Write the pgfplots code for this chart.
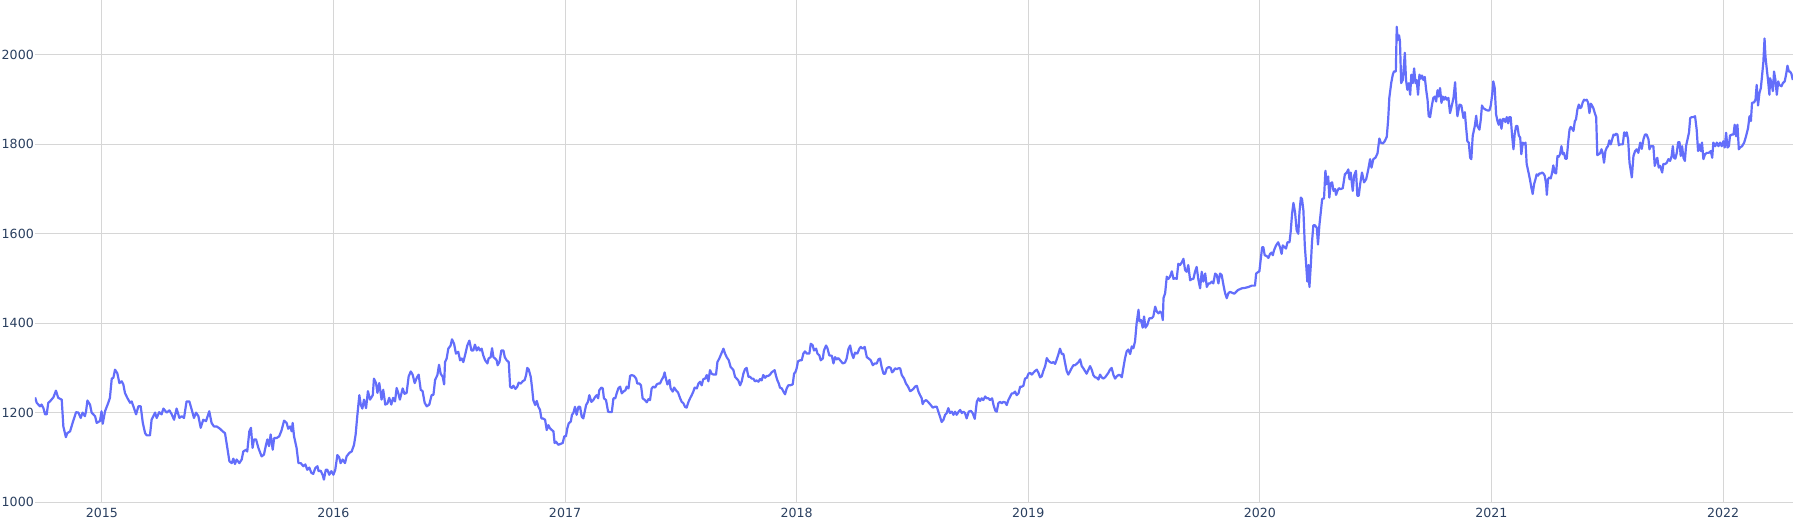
\documentclass[border=0pt]{standalone}
\usepackage{fontspec}
\setmainfont{DejaVu Sans}
\usepackage{pgfplots}
\pgfplotsset{compat=1.18}
\definecolor{lineblue}{HTML}{636EFA}
\definecolor{gridgray}{HTML}{D6D6D6}
\definecolor{labelcol}{HTML}{2A3F5F}
\begin{document}
\begin{tikzpicture}
\useasboundingbox (-35pt,-23pt) rectangle (1758pt,502pt);
\begin{axis}[
  at={(0,0)}, anchor=south west,
  width=1758pt, height=502pt, scale only axis,
  xmin=2014.7116, xmax=2022.302, ymin=1000, ymax=2123,
  axis line style={draw=none},
  grid=major, major grid style={draw=gridgray, line width=1pt},
  major tick length=0pt,
  xtick={2015,2016,2017,2018,2019,2020,2021,2022},
  ytick={1000,1200,1400,1600,1800,2000},
  tick label style={font=\fontsize{12.6pt}{15pt}\selectfont, text=labelcol},
  xticklabel style={anchor=north, inner sep=0pt, yshift=-6pt},
  yticklabel style={anchor=east, inner sep=0pt, xshift=-1pt},
  /pgf/number format/1000 sep={},
  /pgf/number format/assume math mode=true,
]
\addplot[lineblue, line width=2.2pt, line join=round, mark=none] table {
2014.712 1234
2014.719 1222
2014.726 1218
2014.733 1214
2014.740 1218
2014.748 1210
2014.755 1196
2014.762 1196
2014.769 1222
2014.776 1225
2014.791 1234
2014.802 1249
2014.812 1233
2014.827 1229
2014.834 1169
2014.845 1145
2014.851 1154
2014.863 1158
2014.874 1177
2014.889 1201
2014.899 1200
2014.909 1188
2014.917 1200
2014.927 1192
2014.932 1203
2014.938 1227
2014.949 1218
2014.956 1200
2014.971 1192
2014.978 1177
2014.992 1181
2014.999 1203
2015.004 1175
2015.014 1203
2015.028 1222
2015.035 1233
2015.043 1276
2015.050 1278
2015.057 1296
2015.067 1288
2015.076 1266
2015.086 1270
2015.093 1263
2015.100 1244
2015.110 1233
2015.122 1222
2015.129 1225
2015.139 1210
2015.148 1196
2015.158 1214
2015.168 1214
2015.177 1177
2015.187 1154
2015.194 1149
2015.208 1149
2015.215 1184
2015.230 1200
2015.237 1188
2015.248 1201
2015.258 1196
2015.266 1209
2015.280 1200
2015.292 1205
2015.302 1196
2015.312 1184
2015.323 1209
2015.335 1188
2015.345 1192
2015.355 1188
2015.366 1225
2015.378 1225
2015.388 1207
2015.398 1188
2015.407 1200
2015.417 1192
2015.427 1166
2015.438 1184
2015.450 1181
2015.464 1203
2015.474 1177
2015.484 1169
2015.496 1169
2015.510 1164
2015.522 1158
2015.532 1154
2015.542 1121
2015.551 1091
2015.561 1087
2015.568 1097
2015.575 1085
2015.582 1095
2015.594 1087
2015.604 1095
2015.611 1113
2015.623 1117
2015.628 1113
2015.637 1158
2015.644 1166
2015.651 1121
2015.657 1140
2015.666 1140
2015.676 1121
2015.690 1102
2015.700 1106
2015.709 1128
2015.715 1140
2015.722 1125
2015.729 1151
2015.738 1117
2015.744 1143
2015.755 1143
2015.766 1147
2015.776 1160
2015.787 1182
2015.798 1177
2015.805 1164
2015.813 1169
2015.820 1158
2015.824 1177
2015.830 1147
2015.841 1121
2015.849 1087
2015.859 1087
2015.870 1080
2015.879 1084
2015.887 1072
2015.896 1077
2015.905 1065
2015.913 1063
2015.922 1076
2015.931 1080
2015.936 1069
2015.945 1070
2015.954 1060
2015.959 1050
2015.967 1072
2015.974 1072
2015.982 1061
2015.991 1069
2016.000 1061
2016.008 1072
2016.017 1105
2016.025 1100
2016.031 1087
2016.040 1095
2016.050 1087
2016.057 1102
2016.069 1110
2016.079 1113
2016.089 1128
2016.096 1151
2016.103 1192
2016.112 1239
2016.118 1218
2016.125 1209
2016.132 1229
2016.141 1210
2016.149 1248
2016.158 1229
2016.170 1239
2016.175 1276
2016.184 1266
2016.190 1244
2016.198 1266
2016.208 1229
2016.215 1251
2016.224 1218
2016.233 1220
2016.241 1233
2016.250 1218
2016.258 1233
2016.266 1225
2016.273 1255
2016.280 1244
2016.287 1229
2016.299 1254
2016.307 1242
2016.316 1244
2016.325 1281
2016.334 1292
2016.342 1285
2016.351 1266
2016.360 1278
2016.368 1285
2016.377 1251
2016.385 1248
2016.394 1222
2016.403 1214
2016.414 1218
2016.424 1239
2016.432 1240
2016.439 1273
2016.449 1284
2016.456 1307
2016.463 1287
2016.472 1280
2016.478 1263
2016.482 1313
2016.489 1321
2016.496 1343
2016.506 1350
2016.512 1364
2016.521 1354
2016.529 1332
2016.539 1336
2016.547 1317
2016.554 1321
2016.561 1313
2016.570 1332
2016.578 1350
2016.587 1361
2016.596 1339
2016.604 1339
2016.611 1352
2016.619 1339
2016.626 1346
2016.633 1339
2016.640 1343
2016.647 1328
2016.655 1317
2016.665 1310
2016.670 1321
2016.679 1324
2016.685 1344
2016.691 1324
2016.698 1321
2016.705 1317
2016.709 1306
2016.717 1313
2016.725 1339
2016.734 1339
2016.740 1324
2016.748 1317
2016.757 1313
2016.763 1258
2016.770 1255
2016.777 1260
2016.786 1253
2016.794 1258
2016.800 1267
2016.809 1265
2016.817 1270
2016.826 1273
2016.832 1284
2016.837 1300
2016.843 1297
2016.852 1280
2016.858 1254
2016.863 1228
2016.871 1217
2016.878 1226
2016.885 1213
2016.892 1206
2016.898 1187
2016.904 1187
2016.914 1184
2016.921 1161
2016.928 1172
2016.935 1165
2016.943 1161
2016.950 1158
2016.955 1132
2016.961 1135
2016.971 1128
2016.981 1130
2016.990 1132
2016.997 1147
2017.004 1147
2017.010 1165
2017.016 1176
2017.025 1180
2017.030 1195
2017.036 1199
2017.043 1213
2017.050 1195
2017.058 1213
2017.065 1213
2017.072 1191
2017.079 1187
2017.085 1202
2017.091 1217
2017.099 1224
2017.105 1239
2017.114 1224
2017.122 1228
2017.130 1235
2017.137 1239
2017.143 1232
2017.148 1250
2017.157 1256
2017.163 1254
2017.168 1232
2017.177 1228
2017.186 1202
2017.194 1201
2017.202 1201
2017.209 1232
2017.217 1232
2017.223 1243
2017.230 1254
2017.238 1258
2017.245 1243
2017.252 1247
2017.261 1250
2017.266 1258
2017.274 1254
2017.281 1282
2017.288 1284
2017.298 1282
2017.307 1276
2017.312 1265
2017.321 1265
2017.328 1261
2017.335 1232
2017.345 1228
2017.353 1223
2017.360 1230
2017.367 1228
2017.374 1254
2017.381 1258
2017.389 1256
2017.396 1263
2017.403 1265
2017.410 1265
2017.417 1273
2017.425 1280
2017.430 1290
2017.436 1275
2017.442 1263
2017.451 1273
2017.456 1254
2017.465 1247
2017.471 1256
2017.479 1250
2017.488 1245
2017.497 1232
2017.504 1224
2017.511 1221
2017.518 1213
2017.525 1211
2017.533 1224
2017.540 1232
2017.547 1239
2017.554 1247
2017.560 1256
2017.569 1254
2017.576 1265
2017.583 1269
2017.590 1261
2017.597 1275
2017.605 1276
2017.612 1284
2017.619 1270
2017.626 1295
2017.633 1287
2017.641 1285
2017.652 1285
2017.658 1313
2017.666 1321
2017.675 1332
2017.684 1343
2017.691 1332
2017.698 1324
2017.707 1317
2017.715 1302
2017.721 1299
2017.727 1295
2017.734 1280
2017.741 1276
2017.748 1272
2017.756 1261
2017.763 1270
2017.770 1287
2017.777 1297
2017.784 1300
2017.792 1280
2017.799 1280
2017.806 1276
2017.813 1276
2017.820 1270
2017.828 1272
2017.835 1269
2017.842 1275
2017.849 1272
2017.856 1284
2017.864 1278
2017.871 1282
2017.878 1282
2017.885 1285
2017.892 1290
2017.900 1293
2017.905 1295
2017.911 1282
2017.917 1272
2017.923 1265
2017.928 1256
2017.936 1254
2017.943 1247
2017.950 1241
2017.957 1254
2017.964 1261
2017.972 1261
2017.983 1263
2017.989 1287
2017.995 1291
2018.000 1299
2018.006 1315
2018.015 1317
2018.022 1317
2018.029 1332
2018.036 1337
2018.044 1332
2018.055 1332
2018.061 1354
2018.069 1351
2018.075 1339
2018.084 1343
2018.090 1332
2018.098 1328
2018.104 1317
2018.113 1321
2018.118 1339
2018.127 1350
2018.133 1344
2018.141 1328
2018.152 1327
2018.159 1310
2018.166 1324
2018.173 1319
2018.180 1322
2018.188 1317
2018.199 1310
2018.209 1312
2018.216 1321
2018.224 1343
2018.231 1350
2018.238 1332
2018.245 1322
2018.252 1334
2018.262 1332
2018.271 1343
2018.277 1347
2018.285 1343
2018.294 1347
2018.303 1324
2018.311 1321
2018.320 1317
2018.329 1306
2018.337 1310
2018.346 1310
2018.353 1319
2018.360 1321
2018.367 1302
2018.375 1287
2018.382 1287
2018.389 1299
2018.398 1302
2018.406 1300
2018.412 1290
2018.418 1293
2018.425 1299
2018.432 1297
2018.439 1299
2018.447 1299
2018.454 1284
2018.464 1276
2018.472 1265
2018.481 1258
2018.490 1248
2018.497 1250
2018.504 1253
2018.511 1258
2018.519 1260
2018.526 1247
2018.533 1239
2018.540 1232
2018.544 1219
2018.550 1225
2018.559 1228
2018.569 1223
2018.579 1217
2018.588 1211
2018.596 1213
2018.605 1213
2018.612 1202
2018.619 1191
2018.626 1179
2018.634 1184
2018.641 1195
2018.648 1199
2018.655 1210
2018.662 1199
2018.670 1202
2018.677 1195
2018.684 1202
2018.691 1195
2018.698 1201
2018.706 1206
2018.713 1199
2018.720 1202
2018.727 1199
2018.734 1187
2018.743 1202
2018.752 1204
2018.760 1199
2018.769 1186
2018.778 1224
2018.785 1232
2018.792 1226
2018.799 1232
2018.806 1228
2018.814 1236
2018.821 1232
2018.828 1232
2018.835 1228
2018.844 1232
2018.850 1217
2018.858 1204
2018.864 1202
2018.871 1221
2018.878 1224
2018.886 1221
2018.893 1224
2018.900 1223
2018.907 1217
2018.914 1228
2018.922 1236
2018.929 1243
2018.936 1243
2018.943 1247
2018.950 1239
2018.958 1243
2018.965 1258
2018.972 1258
2018.979 1260
2018.986 1276
2018.994 1278
2019.001 1287
2019.008 1289
2019.015 1285
2019.022 1289
2019.029 1293
2019.037 1296
2019.044 1289
2019.051 1279
2019.058 1281
2019.065 1293
2019.073 1304
2019.080 1322
2019.087 1316
2019.094 1313
2019.101 1311
2019.109 1313
2019.116 1309
2019.123 1319
2019.130 1330
2019.137 1343
2019.145 1331
2019.152 1331
2019.159 1311
2019.166 1293
2019.173 1285
2019.181 1293
2019.188 1300
2019.195 1306
2019.202 1306
2019.209 1309
2019.217 1313
2019.224 1319
2019.231 1304
2019.238 1299
2019.245 1293
2019.252 1287
2019.260 1296
2019.267 1304
2019.274 1296
2019.281 1284
2019.288 1279
2019.296 1278
2019.303 1274
2019.310 1285
2019.317 1279
2019.324 1276
2019.332 1279
2019.339 1284
2019.346 1289
2019.353 1296
2019.360 1300
2019.368 1284
2019.375 1276
2019.382 1281
2019.389 1284
2019.396 1284
2019.404 1279
2019.411 1301
2019.418 1322
2019.425 1337
2019.432 1341
2019.440 1331
2019.447 1348
2019.454 1344
2019.461 1359
2019.468 1400
2019.476 1430
2019.480 1404
2019.487 1407
2019.494 1390
2019.500 1415
2019.506 1390
2019.514 1396
2019.523 1411
2019.533 1411
2019.540 1415
2019.548 1437
2019.555 1426
2019.562 1422
2019.569 1426
2019.576 1422
2019.581 1407
2019.584 1456
2019.591 1467
2019.598 1504
2019.605 1499
2019.612 1504
2019.620 1516
2019.627 1499
2019.634 1501
2019.641 1499
2019.648 1533
2019.655 1530
2019.663 1536
2019.670 1544
2019.677 1519
2019.684 1515
2019.691 1530
2019.699 1496
2019.706 1499
2019.713 1499
2019.720 1515
2019.727 1526
2019.735 1496
2019.742 1478
2019.749 1515
2019.756 1493
2019.764 1511
2019.771 1481
2019.778 1489
2019.785 1489
2019.792 1493
2019.799 1489
2019.807 1511
2019.814 1508
2019.821 1489
2019.828 1511
2019.835 1508
2019.843 1485
2019.850 1467
2019.857 1456
2019.864 1467
2019.871 1470
2019.890 1466
2019.905 1474
2019.922 1478
2019.936 1479
2019.951 1481
2019.965 1484
2019.979 1484
2019.984 1511
2019.994 1515
2019.998 1516
2020.004 1544
2020.010 1570
2020.015 1570
2020.021 1552
2020.030 1550
2020.037 1546
2020.044 1555
2020.051 1558
2020.056 1552
2020.061 1563
2020.070 1574
2020.079 1581
2020.087 1570
2020.094 1555
2020.099 1574
2020.107 1570
2020.113 1567
2020.119 1581
2020.128 1581
2020.133 1604
2020.139 1644
2020.145 1669
2020.152 1648
2020.159 1607
2020.166 1600
2020.171 1648
2020.177 1681
2020.182 1678
2020.188 1652
2020.194 1574
2020.200 1530
2020.205 1493
2020.210 1530
2020.214 1481
2020.220 1530
2020.225 1581
2020.231 1619
2020.238 1619
2020.246 1613
2020.251 1576
2020.257 1619
2020.263 1648
2020.269 1678
2020.277 1679
2020.283 1741
2020.289 1711
2020.295 1728
2020.300 1681
2020.306 1713
2020.312 1715
2020.318 1696
2020.325 1700
2020.329 1687
2020.335 1696
2020.341 1702
2020.349 1700
2020.358 1702
2020.367 1733
2020.375 1737
2020.382 1744
2020.387 1722
2020.392 1737
2020.401 1696
2020.407 1730
2020.415 1741
2020.421 1685
2020.427 1685
2020.433 1711
2020.441 1737
2020.450 1715
2020.459 1722
2020.467 1741
2020.476 1767
2020.482 1748
2020.490 1767
2020.499 1770
2020.508 1780
2020.516 1813
2020.522 1804
2020.531 1802
2020.539 1807
2020.548 1817
2020.554 1856
2020.559 1904
2020.567 1937
2020.574 1956
2020.579 1963
2020.587 1963
2020.591 2063
2020.595 2033
2020.601 2044
2020.605 2030
2020.610 1937
2020.617 1944
2020.626 2005
2020.631 1944
2020.637 1922
2020.643 1937
2020.649 1911
2020.654 1956
2020.660 1937
2020.666 1970
2020.672 1937
2020.677 1944
2020.683 1911
2020.689 1956
2020.695 1947
2020.700 1954
2020.706 1944
2020.712 1951
2020.718 1922
2020.724 1900
2020.729 1863
2020.735 1861
2020.742 1885
2020.749 1904
2020.756 1907
2020.761 1896
2020.767 1921
2020.772 1907
2020.778 1926
2020.784 1893
2020.790 1907
2020.795 1900
2020.801 1906
2020.807 1900
2020.814 1904
2020.821 1870
2020.828 1885
2020.836 1904
2020.843 1939
2020.847 1900
2020.853 1863
2020.862 1889
2020.870 1887
2020.879 1859
2020.885 1872
2020.890 1841
2020.896 1807
2020.902 1804
2020.908 1770
2020.913 1767
2020.919 1819
2020.928 1841
2020.934 1864
2020.939 1841
2020.948 1833
2020.954 1856
2020.959 1887
2020.965 1881
2020.974 1878
2020.982 1876
2020.991 1876
2020.997 1887
2021.003 1911
2021.008 1941
2021.014 1926
2021.020 1867
2021.026 1852
2021.031 1844
2021.037 1856
2021.043 1835
2021.049 1857
2021.054 1857
2021.060 1850
2021.066 1861
2021.072 1847
2021.077 1861
2021.083 1861
2021.089 1820
2021.095 1789
2021.100 1822
2021.106 1841
2021.112 1841
2021.118 1820
2021.124 1815
2021.129 1778
2021.135 1804
2021.141 1800
2021.147 1804
2021.152 1756
2021.160 1737
2021.167 1719
2021.172 1704
2021.178 1689
2021.184 1711
2021.190 1722
2021.195 1733
2021.201 1730
2021.207 1735
2021.213 1735
2021.219 1737
2021.224 1735
2021.230 1730
2021.236 1711
2021.239 1687
2021.244 1722
2021.250 1726
2021.256 1724
2021.262 1737
2021.267 1753
2021.273 1737
2021.279 1735
2021.285 1774
2021.290 1772
2021.296 1778
2021.302 1796
2021.308 1778
2021.313 1781
2021.319 1768
2021.325 1768
2021.331 1804
2021.337 1833
2021.342 1839
2021.348 1835
2021.354 1830
2021.360 1852
2021.365 1856
2021.371 1878
2021.377 1889
2021.383 1881
2021.388 1883
2021.394 1894
2021.400 1900
2021.406 1898
2021.411 1900
2021.417 1894
2021.423 1870
2021.429 1891
2021.434 1887
2021.440 1881
2021.446 1870
2021.452 1861
2021.457 1776
2021.463 1778
2021.469 1780
2021.475 1789
2021.480 1781
2021.486 1759
2021.492 1785
2021.498 1793
2021.503 1796
2021.509 1809
2021.515 1800
2021.521 1811
2021.527 1822
2021.532 1820
2021.538 1824
2021.544 1822
2021.550 1798
2021.555 1800
2021.567 1800
2021.573 1827
2021.578 1819
2021.584 1827
2021.590 1811
2021.596 1759
2021.606 1726
2021.613 1774
2021.620 1785
2021.627 1789
2021.634 1781
2021.642 1804
2021.649 1790
2021.656 1811
2021.663 1822
2021.670 1822
2021.678 1811
2021.682 1789
2021.688 1796
2021.693 1796
2021.699 1796
2021.705 1752
2021.711 1763
2021.716 1770
2021.722 1748
2021.728 1752
2021.737 1737
2021.742 1756
2021.750 1756
2021.757 1759
2021.764 1767
2021.771 1763
2021.778 1774
2021.783 1796
2021.788 1770
2021.794 1768
2021.800 1781
2021.806 1805
2021.812 1805
2021.817 1774
2021.823 1796
2021.829 1770
2021.835 1763
2021.840 1796
2021.848 1815
2021.853 1827
2021.858 1859
2021.865 1861
2021.872 1861
2021.879 1863
2021.886 1833
2021.892 1785
2021.898 1800
2021.904 1785
2021.909 1804
2021.915 1767
2021.922 1778
2021.930 1781
2021.938 1781
2021.947 1785
2021.953 1770
2021.958 1804
2021.966 1796
2021.973 1804
2021.980 1796
2021.987 1804
2021.994 1796
2022.001 1807
2022.007 1793
2022.013 1826
2022.019 1793
2022.025 1796
2022.030 1820
2022.039 1822
2022.045 1822
2022.050 1844
2022.056 1818
2022.062 1844
2022.068 1789
2022.073 1793
2022.082 1796
2022.091 1804
2022.099 1818
2022.108 1837
2022.114 1863
2022.120 1852
2022.125 1893
2022.134 1894
2022.140 1900
2022.145 1933
2022.151 1887
2022.157 1915
2022.163 1926
2022.168 1952
2022.174 1985
2022.179 2037
2022.183 1996
2022.189 1967
2022.194 1944
2022.200 1911
2022.203 1948
2022.209 1937
2022.215 1919
2022.220 1963
2022.226 1944
2022.232 1911
2022.238 1941
2022.243 1933
2022.252 1930
2022.258 1937
2022.266 1941
2022.272 1956
2022.278 1976
2022.284 1963
2022.289 1963
2022.295 1958
2022.301 1944
};
\end{axis}
\end{tikzpicture}
\end{document}
